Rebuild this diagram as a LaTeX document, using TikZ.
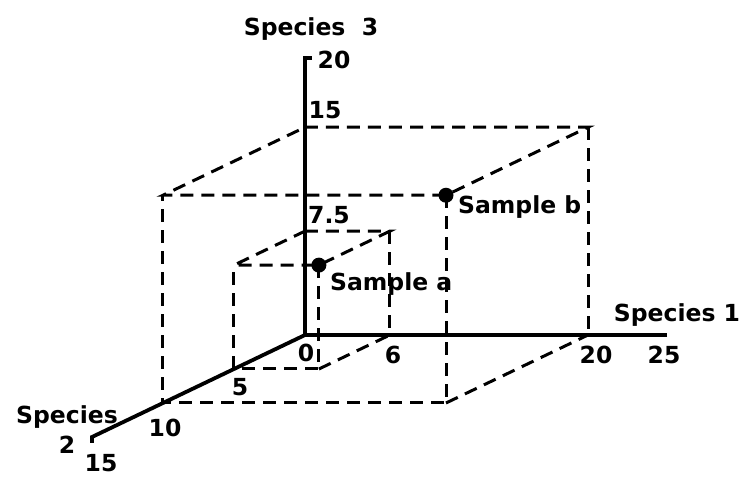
\documentclass[tikz,border=0pt]{standalone}
\usepackage{fontspec}
\setmainfont{DejaVu Sans}

\begin{document}
\begin{tikzpicture}[x={(14.15pt,0pt)},y={(-14.2pt,-6.8pt)},z={(0pt,13.85pt)},
  axis/.style={line width=3.8pt},
  guide/.style={line width=3pt,dash pattern=on 13pt off 8pt},
  lbl/.style={font=\bfseries\fontsize{23.5}{30}\selectfont,inner sep=0pt},
  dot/.style={circle,fill=black,inner sep=0pt,minimum size=15pt}]
  \useasboundingbox (-305pt,-144pt) rectangle (448pt,335pt);
  \coordinate (O) at (0,0,0);
  \coordinate (xend) at (25.6,0,0);
  \coordinate (yend) at (0,15,0);
  \coordinate (zend) at (0,0,20);
  % boxes of the two samples
  \foreach \a/\b/\c in {20/10/15, 6/5/7.5} {
    \draw[guide] (0,0,\c) -- (\a,0,\c) -- (\a,\b,\c) -- (0,\b,\c) -- cycle;
    \draw[guide] (\a,0,\c) -- (\a,0,0);
    \draw[guide] (\a,\b,\c) -- (\a,\b,0) -- (0,\b,0) -- (0,\b,\c);
    \draw[guide] (\a,\b,0) -- (\a,0,0);
  }
  % axes
  \draw[axis] (xend) -- (O) -- (zend) -- ++(7pt,0pt);
  \draw[axis] (O) -- (yend) -- ++(0pt,-6pt);
  \node[dot] (sb) at (20,10,15) {};
  \node[dot] (sa) at (6,5,7.5) {};
  \node[lbl] (sp3) at (6pt,306pt) {Species\ \ 3};
  \node[lbl] (sp1) at (372pt,20pt) {Species 1};
  \node[lbl,align=center] (sp2) at (-238pt,-95pt) {Species\\2};
  \node[lbl,anchor=west] (na) at (25pt,51pt) {Sample a};
  \node[lbl,anchor=west] (nb) at (153pt,128pt) {Sample b};
  % tick values
  \node[lbl] (z20) at (29pt,275pt) {20};
  \node[lbl] (z15) at (20pt,225pt) {15};
  \node[lbl] (z75) at (24pt,120pt) {7.5};
  \node[lbl] (x0) at (1pt,-18pt) {0};
  \node[lbl] (x6) at (88pt,-20pt) {6};
  \node[lbl] (x20) at (291pt,-20pt) {20};
  \node[lbl] (x25) at (359pt,-20pt) {25};
  \node[lbl] (y5) at (-65pt,-52pt) {5};
  \node[lbl] (y10) at (-140pt,-93pt) {10};
  \node[lbl] (y15) at (-204pt,-128pt) {15};
\end{tikzpicture}
\end{document}
